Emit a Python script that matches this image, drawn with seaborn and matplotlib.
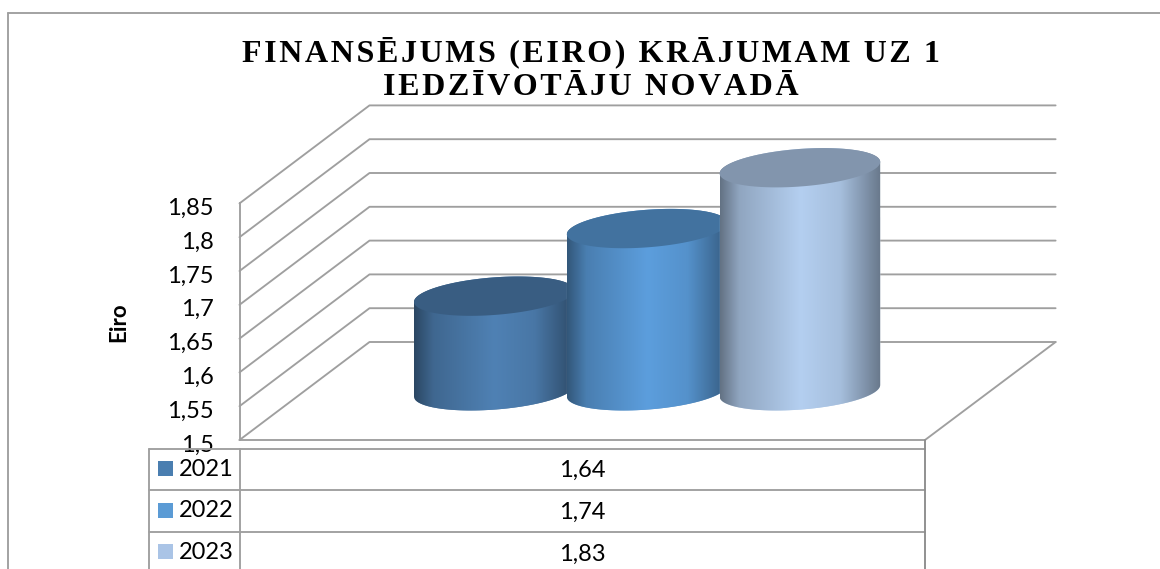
import numpy as np
import pandas as pd
import matplotlib
matplotlib.use("Agg")
import matplotlib.pyplot as plt
from matplotlib.colors import LinearSegmentedColormap, to_rgb
from matplotlib.patches import PathPatch, Rectangle
from matplotlib.path import Path
from matplotlib.transforms import ScaledTranslation
import seaborn as sns

years = ["2021", "2022", "2023"]
values = [1.64, 1.74, 1.83]
body_colors = ["#4f81b4", "#5c9edd", "#b4cff0"]
key_colors = ["#4a7eb0", "#5b9bd5", "#aac4e6"]
y_ticks = [1.5, 1.55, 1.6, 1.65, 1.7, 1.75, 1.8, 1.85]
y_tick_labels = ["1,5", "1,55", "1,6", "1,65", "1,7", "1,75", "1,8", "1,85"]
title = "FINANSĒJUMS (EIRO) KRĀJUMAM UZ 1\nIEDZĪVOTĀJU NOVADĀ"
y_label = "Eiro"

W, H = 1160, 569
GRAY = "#9f9f9f"
LW = 1.35
PX_PER_UNIT = 676  # one euro on the value axis, in pixels
STEP = 152.8       # distance between two cylinders, in pixels


def xd(px):
    return (px - 494.3) / STEP


def yd(py):
    return 1.5 + (440 - py) / PX_PER_UNIT


def spaced(text, sep="\u200a"):
    return "\n".join(sep.join(line) for line in text.split("\n"))


sns.set_theme(style="white")
plt.rcParams["font.family"] = ["Lato", "DejaVu Sans"]

fig = plt.figure(figsize=(W / 100, H / 100), dpi=100)
ax = fig.add_axes([0, 0, 1, 1])
ax.patch.set_alpha(0)

df = pd.DataFrame({"year": years, "value": values})
sns.barplot(data=df, x="year", y="value", hue="year", palette=body_colors,
            width=160.6 / STEP, errorbar=None, legend=False, ax=ax)

# walls of the 3d box
depth = 98 / PX_PER_UNIT
for t in y_ticks:
    ax.plot([xd(239.5), xd(369.5), xd(1055.6)], [t, t + depth, t + depth],
            color=GRAY, lw=LW, zorder=1)
ax.plot([xd(239.5), xd(925), xd(1055.6)], [1.5, 1.5, 1.5 + depth], color=GRAY, lw=LW, zorder=1)

# cylinders are built on the seaborn bars
mid_depth = 49.2 / PX_PER_UNIT
b = 18.8 / PX_PER_UNIT
k = 5.8 / PX_PER_UNIT
shade_pos = [0, 0.12, 0.5, 0.75, 1]
shade_val = [0.55, 0.8, 1, 0.92, 0.58]
for i, p in enumerate(ax.patches):
    z = 3 + i
    color = np.array(to_rgb(body_colors[i]))
    x0 = p.get_x()
    w = p.get_width()
    cx = x0 + w / 2
    top = p.get_height() + mid_depth
    base = 1.5 + mid_depth

    t = np.linspace(0, np.pi, 60)
    top_x = cx - w / 2 * np.cos(t)
    top_y = top - k * np.cos(t) + b * np.sin(t)
    base_x = cx + w / 2 * np.cos(t)
    base_y = base + k * np.cos(t) - b * np.sin(t)
    verts = np.column_stack([np.r_[top_x, base_x], np.r_[top_y, base_y]])
    body = PathPatch(Path(np.vstack([verts, verts[0]])), fc="none", ec="none",
                     transform=ax.transData, zorder=z)
    ax.add_patch(body)
    p.set_zorder(z)
    p.set_clip_path(body)

    cmap = LinearSegmentedColormap.from_list(
        "shade", [(pos, tuple(color * s)) for pos, s in zip(shade_pos, shade_val)])
    img = ax.imshow(np.linspace(0, 1, 256)[None, :], cmap=cmap, aspect="auto",
                    extent=[x0, x0 + w, base - 2 * b, top + 2 * b], zorder=z + 0.1)
    img.set_clip_path(body)

    t = np.linspace(0, 2 * np.pi, 120)
    ax.fill(cx + w / 2 * np.cos(t), top + k * np.cos(t) + b * np.sin(t),
            color=tuple(color * 0.72), lw=0, zorder=z + 0.2)

ax.set_xlim(xd(0), xd(W))
ax.set_ylim(yd(H), yd(0))

# value axis sits on the front left edge of the box
for name in ["top", "right", "bottom"]:
    ax.spines[name].set_visible(False)
ax.spines["left"].set_position(("data", xd(239.5)))
ax.spines["left"].set_bounds(1.5, 1.85)
ax.spines["left"].set_color(GRAY)
ax.spines["left"].set_linewidth(LW)
ax.set_xticks([])
ax.set_xlabel("")
ax.set_yticks(y_ticks)
ax.set_yticklabels(y_tick_labels, fontsize=17, color="black")
ax.tick_params(axis="y", length=0, pad=18.5)
shift = ScaledTranslation(0, -3 / 100, fig.dpi_scale_trans)
for lab in ax.get_yticklabels():
    lab.set_transform(lab.get_transform() + shift)
ax.set_ylabel(y_label, fontsize=16, fontweight="bold", color="black")
ax.yaxis.set_label_coords(129.5 / W, 1 - 322 / H)

fig.text(591 / W, 1 - 36 / H, spaced(title), family="Liberation Serif", fontweight="bold",
         fontsize=23, color="black", ha="center", va="top", multialignment="center",
         linespacing=1.22)

# chart frame, open on the right
ax.plot([xd(8), xd(8)], [yd(H), yd(12.5)], color=GRAY, lw=LW, zorder=1)
ax.plot([xd(8), xd(W)], [yd(12.5), yd(12.5)], color=GRAY, lw=LW, zorder=1)

# data table under the chart
row_lines = [449, 490, 531.7]
year_rows = [469.5, 510, 552]
value_rows = [470.5, 512.5, 554.5]
key_rows = [461, 503, 544]
for py in row_lines:
    ax.plot([xd(149), xd(925)], [yd(py), yd(py)], color=GRAY, lw=LW, zorder=1)
ax.plot([xd(149), xd(149)], [yd(449), yd(H)], color=GRAY, lw=LW, zorder=1)
ax.plot([xd(240), xd(240)], [yd(449), yd(H)], color=GRAY, lw=LW, zorder=1)
ax.plot([xd(925), xd(925)], [yd(440), yd(H)], color="#8c8c8c", lw=LW, zorder=1)
for year, val, kc, yy, vy, ky in zip(years, values, key_colors, year_rows, value_rows, key_rows):
    ax.add_patch(Rectangle((xd(158), yd(ky + 15)), 15 / STEP, 15 / PX_PER_UNIT, fc=kc, ec="none"))
    ax.text(xd(179), yd(yy), year, fontsize=17, color="black", ha="left", va="center")
    ax.text(xd(582.5), yd(vy), f"{val:.2f}".replace(".", ","), fontsize=17, color="black",
            ha="center", va="center")

fig.savefig("out.png", dpi=100, facecolor="white")
